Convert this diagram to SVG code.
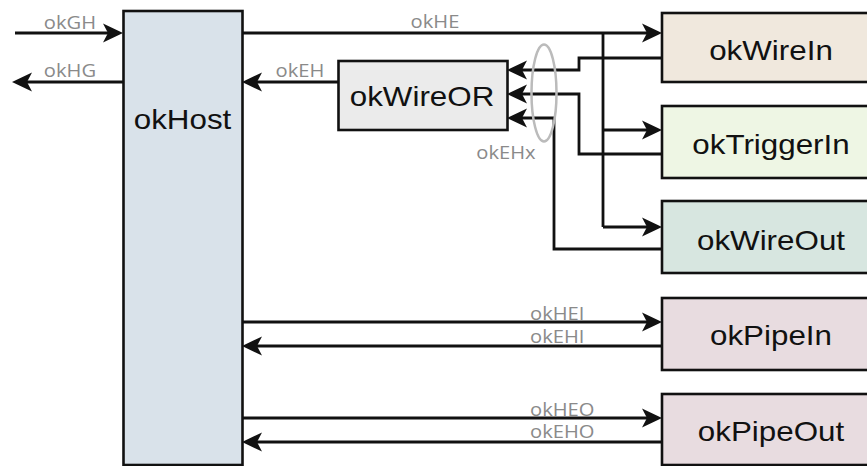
<svg xmlns="http://www.w3.org/2000/svg" width="867" height="466" viewBox="0 0 867 466">
<style>
.box{stroke:#111;stroke-width:2.6}
.big{font-family:"Liberation Sans",Arial,sans-serif;font-size:28px;fill:#111;text-anchor:middle}
.lbl{font-family:"Open Sans","Noto Sans",sans-serif;font-size:18px;fill:#8a8a8a}
.w{fill:none;stroke:#111;stroke-width:2.8}
.arr{marker-end:url(#ah)}
</style>
<defs>
<marker id="ah" markerUnits="userSpaceOnUse" viewBox="0 0 20 20" refX="15" refY="10" markerWidth="20" markerHeight="20" orient="auto">
<path d="M0,0.5 L20,10 L0,19.5 L5,10 Z" fill="#111"/>
</marker>
</defs>
<g id="connectors">
<line class="w arr" x1="15" y1="33" x2="118" y2="33"/>
<line class="w arr" x1="123" y1="82" x2="17" y2="82"/>
<line class="w arr" x1="242" y1="33" x2="657" y2="33"/>
<line class="w arr" x1="338" y1="82" x2="247" y2="82"/>
<polyline class="w" points="603,33 603,227"/>
<line class="w arr" x1="603" y1="130" x2="657" y2="130"/>
<line class="w arr" x1="603" y1="227" x2="657" y2="227"/>
<polyline class="w arr" points="662,58 579,58 579,70 512,70"/>
<polyline class="w arr" points="662,154 579,154 579,94 512,94"/>
<polyline class="w arr" points="662,249 554,249 554,118 512,118"/>
<line class="w arr" x1="242" y1="322" x2="657" y2="322"/>
<line class="w arr" x1="662" y1="346" x2="247" y2="346"/>
<line class="w arr" x1="242" y1="418" x2="657" y2="418"/>
<line class="w arr" x1="662" y1="442" x2="247" y2="442"/>
<ellipse cx="544" cy="93" rx="12.5" ry="48.5" fill="none" stroke="#bbbbbb" stroke-width="2.5"/>
<text class="lbl" transform="translate(70,29) scale(1.12,1)" text-anchor="middle">okGH</text>
<text class="lbl" transform="translate(70,77) scale(1.12,1)" text-anchor="middle">okHG</text>
<text class="lbl" transform="translate(435,28) scale(1.12,1)" text-anchor="middle">okHE</text>
<text class="lbl" transform="translate(300,77) scale(1.12,1)" text-anchor="middle">okEH</text>
<text class="lbl" transform="translate(506,159) scale(1.12,1)" text-anchor="middle">okEHx</text>
<text class="lbl" transform="translate(530,320) scale(1.12,1)">okHEI</text>
<text class="lbl" transform="translate(530,343) scale(1.12,1)">okEHI</text>
<text class="lbl" transform="translate(530,416) scale(1.12,1)">okHEO</text>
<text class="lbl" transform="translate(530,438) scale(1.12,1)">okEHO</text>
</g>
<g id="okHost">
<rect class="box" x="123.5" y="11" width="119" height="454" fill="#d9e2ea"/>
<text class="big" transform="translate(182.5,129) scale(1.12,1)">okHost</text>
</g>
<g id="okWireOR">
<rect class="box" x="338.5" y="61" width="169" height="69" fill="#ebebeb"/>
<text class="big" transform="translate(422,106) scale(1.12,1)">okWireOR</text>
</g>
<g id="okWireIn">
<rect class="box" x="662" y="13" width="220" height="69" fill="#f0e8dd"/>
<text class="big" transform="translate(771,60) scale(1.12,1)">okWireIn</text>
</g>
<g id="okTriggerIn">
<rect class="box" x="662" y="106" width="220" height="72" fill="#eef6e4"/>
<text class="big" transform="translate(771,154) scale(1.12,1)">okTriggerIn</text>
</g>
<g id="okWireOut">
<rect class="box" x="662" y="201" width="220" height="72" fill="#d7e6e0"/>
<text class="big" transform="translate(771,250) scale(1.12,1)">okWireOut</text>
</g>
<g id="okPipeIn">
<rect class="box" x="662" y="298" width="220" height="72" fill="#e8dce0"/>
<text class="big" transform="translate(771,345) scale(1.12,1)">okPipeIn</text>
</g>
<g id="okPipeOut">
<rect class="box" x="662" y="394" width="220" height="71" fill="#e8dce0"/>
<text class="big" transform="translate(771,441) scale(1.12,1)">okPipeOut</text>
</g>
</svg>
